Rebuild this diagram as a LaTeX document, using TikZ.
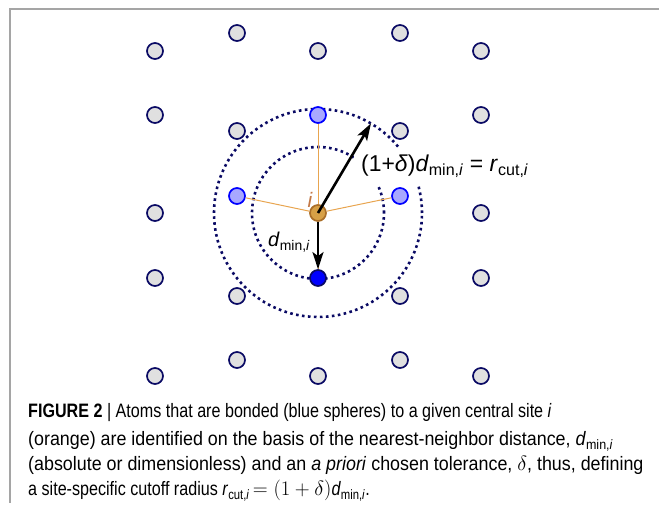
\documentclass[tikz,border=0pt]{standalone}
\usepackage{fontspec}
\setmainfont{Liberation Sans}
\setsansfont{Liberation Sans}
\newfontfamily\capfont[FakeStretch=0.83]{Liberation Sans}
\newfontfamily\capwide[FakeStretch=0.92]{Liberation Sans}
\usetikzlibrary{positioning, arrows.meta, calc}

\definecolor{navy}{RGB}{10,10,100}
\definecolor{atomgray}{RGB}{224,224,224}
\definecolor{lightblue}{RGB}{168,168,255}
\definecolor{sitecol}{RGB}{215,160,70}
\definecolor{siteedge}{RGB}{170,110,40}
\definecolor{bondcol}{RGB}{232,165,80}
\definecolor{labelcol}{RGB}{195,120,70}
\definecolor{framegray}{RGB}{165,165,165}

\begin{document}
\begin{tikzpicture}[x=1bp,y=1bp,
	atom/.style={circle,draw=navy,fill=atomgray,line width=1.7bp,minimum size=16bp,inner sep=0pt},
	bonded/.style={atom,draw=blue,fill=lightblue},
	nearest/.style={atom,draw=navy,fill=blue},
	site/.style={atom,draw=siteedge,fill=sitecol},
	bond/.style={bondcol,line width=1bp},
	cutoff/.style={navy,line width=2.6bp,dash pattern=on 2.6bp off 3.4bp},
	vec/.style={-{Stealth[length=17bp,width=11bp,inset=4bp]},line width=2.6bp},
	caption/.style={anchor=base west,inner sep=0pt,font=\capfont\fontsize{19.5}{23}\selectfont},
	widecaption/.style={caption,font=\capwide\fontsize{19.5}{23}\selectfont}]
	
	\useasboundingbox (0,0) rectangle (659,519);
	\draw[framegray,line width=1.5bp] (10,16) -- (10,510) -- (659,510);
	
	% lattice sites (the ones not bonded to i)
	\foreach \col/\x in {1/155,5/481}
	  \foreach \row/\y in {1/468,2/404,3/306,4/241,5/143}
	    \node[atom] (a_\col_\row) at (\x,\y) {};
	\foreach \col/\x in {2/237,4/400}
	  \foreach \row/\y in {1/486,2/388,4/223,5/159}
	    \node[atom] (a_\col_\row) at (\x,\y) {};
	\node[atom] (a_3_1) at (318,468) {};
	\node[atom] (a_3_5) at (318,143) {};
	
	% cutoff spheres
	\draw[cutoff] (318,306) circle (66);
	\draw[cutoff] (318,306) circle (104);
	
	\node[bonded] (n_top)   at (318,404) {};
	\node[bonded] (n_left)  at (237,323) {};
	\node[bonded] (n_right) at (400,323) {};
	\node[nearest] (n_min)  at (318,241) {};
	\node[site] (c) at (318,306) {};
	
	\draw[bond] (c) -- (n_top);
	\draw[bond] (c) -- (n_left);
	\draw[bond] (c) -- (n_right);
	\draw[bond] (c) -- (n_min);
	
	\node[fill=white,inner sep=7bp,anchor=base west,font=\fontsize{23}{27}\selectfont] (rcut) at (354,347)
	  {(1+\textit{δ})\textit{d}\textsubscript{min,\textit{i}} = \textit{r}\textsubscript{cut,\textit{i}}};
	\coordinate (rim) at ($(318,306)+(59.4:104)$);
	\draw[vec] (c.center) -- (rim);
	\draw[vec] (c) -- (n_min);
	
	\node[labelcol,inner sep=0pt,font=\fontsize{21}{25}\selectfont\itshape] (ilabel) at (310,319) {i};
	\node[anchor=base west,inner sep=0pt,font=\fontsize{20}{24}\selectfont] (dmin) at (268,272)
	  {\textit{d}\textsubscript{min,\textit{i}}};
	
	% caption
	\node[caption] (cap1) at (28,101) {\textbf{FIGURE 2} | Atoms that are bonded (blue spheres) to a given central site \textit{i}};
	\node[widecaption] (cap2) at (28,73) {(orange) are identified on the basis of the nearest-neighbor distance, \textit{d}\textsubscript{min,\textit{i}}};
	\node[widecaption] (cap3) at (28,48) {(absolute or dimensionless) and an \textit{a priori} chosen tolerance, $\delta$, thus, defining};
	\node[caption] (cap4) at (28,23) {a site-specific cutoff radius \textit{r}\textsubscript{cut,\textit{i}}\,$=(1+\delta)$\textit{d}\textsubscript{min,\textit{i}}.};
\end{tikzpicture}
\end{document}
